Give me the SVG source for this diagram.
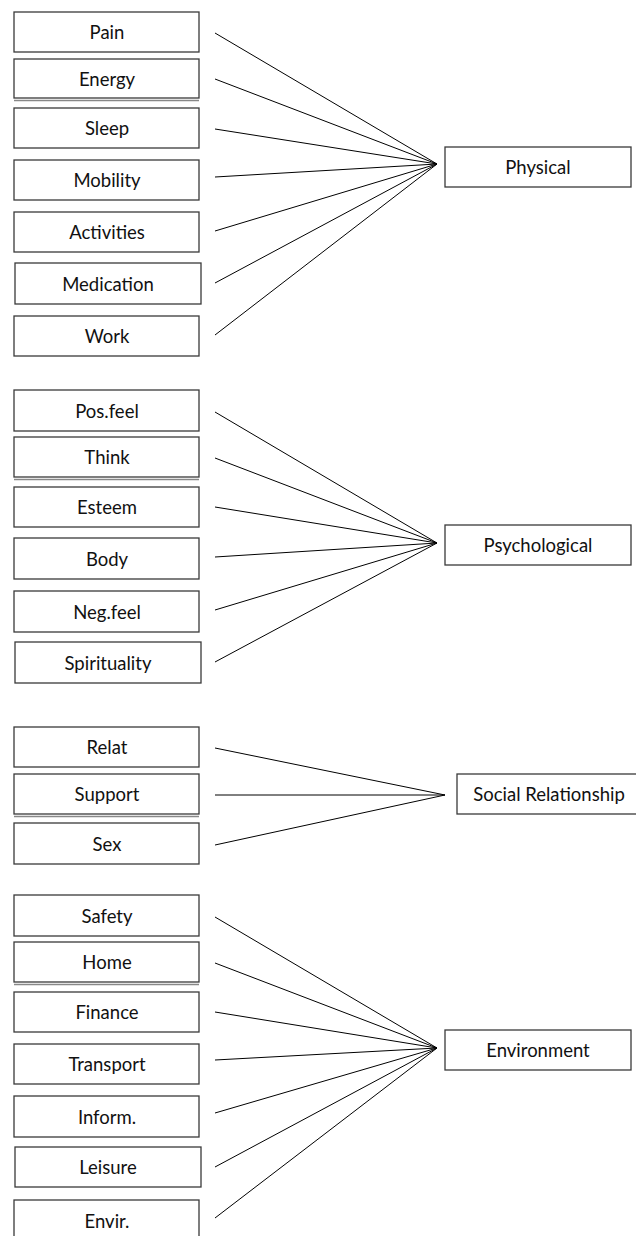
<svg xmlns="http://www.w3.org/2000/svg" width="636" height="1236" viewBox="0 0 636 1236">
<style>
.box{fill:#fff;stroke:#3a3a3a;stroke-width:1.3}
.dbl{stroke:#888;stroke-width:1.3}
.lbl{font-family:Lato,"Open Sans","Liberation Sans",sans-serif;font-size:18.5px;fill:#111;text-anchor:middle}
.con line{stroke:#000;stroke-width:1}
</style>
<rect width="636" height="1236" fill="#fff"/>
<g class="con">
<line x1="215" y1="33" x2="437" y2="164"/>
<line x1="215" y1="79" x2="437" y2="164"/>
<line x1="215" y1="129" x2="437" y2="164"/>
<line x1="215" y1="177" x2="437" y2="164"/>
<line x1="215" y1="231" x2="437" y2="164"/>
<line x1="215" y1="283" x2="437" y2="164"/>
<line x1="215" y1="335" x2="437" y2="164"/>
<line x1="215" y1="412" x2="437" y2="543"/>
<line x1="215" y1="458" x2="437" y2="543"/>
<line x1="215" y1="507" x2="437" y2="543"/>
<line x1="215" y1="557" x2="437" y2="543"/>
<line x1="215" y1="610" x2="437" y2="543"/>
<line x1="215" y1="662" x2="437" y2="543"/>
<line x1="215" y1="748" x2="445" y2="795"/>
<line x1="215" y1="795" x2="445" y2="795"/>
<line x1="215" y1="845" x2="445" y2="795"/>
<line x1="215" y1="917" x2="437" y2="1048"/>
<line x1="215" y1="963" x2="437" y2="1048"/>
<line x1="215" y1="1012" x2="437" y2="1048"/>
<line x1="215" y1="1060" x2="437" y2="1048"/>
<line x1="215" y1="1113" x2="437" y2="1048"/>
<line x1="215" y1="1167" x2="437" y2="1048"/>
<line x1="215" y1="1218" x2="437" y2="1048"/>
</g>
<g id="pain"><rect class="box" x="14" y="12" width="185" height="40"/><text class="lbl" x="107" y="38.5">Pain</text></g>
<g id="energy"><line class="dbl" x1="14" y1="100.5" x2="199" y2="100.5"/><rect class="box" x="14" y="59" width="185" height="39"/><text class="lbl" x="107" y="85.5">Energy</text></g>
<g id="sleep"><rect class="box" x="14" y="108" width="185" height="40"/><text class="lbl" x="107" y="134.5">Sleep</text></g>
<g id="mobility"><rect class="box" x="14" y="160" width="185" height="40"/><text class="lbl" x="107" y="186.5">Mobility</text></g>
<g id="activities"><rect class="box" x="14" y="212" width="185" height="40"/><text class="lbl" x="107" y="238.5">Activities</text></g>
<g id="medication"><rect class="box" x="15" y="263" width="186" height="41"/><text class="lbl" x="108" y="290.5">Medication</text></g>
<g id="work"><rect class="box" x="14" y="316" width="185" height="40"/><text class="lbl" x="107" y="342.5">Work</text></g>
<g id="physical"><rect class="box" x="445" y="147" width="186" height="40"/><text class="lbl" x="538" y="173.5">Physical</text></g>

<g id="posfeel"><rect class="box" x="14" y="390" width="185" height="41"/><text class="lbl" x="107" y="417.5">Pos.feel</text></g>
<g id="think"><line class="dbl" x1="14" y1="479.5" x2="199" y2="479.5"/><rect class="box" x="14" y="437" width="185" height="40"/><text class="lbl" x="107" y="463.5">Think</text></g>
<g id="esteem"><rect class="box" x="14" y="487" width="185" height="40"/><text class="lbl" x="107" y="513.5">Esteem</text></g>
<g id="body"><rect class="box" x="14" y="538" width="185" height="41"/><text class="lbl" x="107" y="565.5">Body</text></g>
<g id="negfeel"><rect class="box" x="14" y="591" width="185" height="41"/><text class="lbl" x="107" y="618.5">Neg.feel</text></g>
<g id="spirituality"><rect class="box" x="15" y="642" width="186" height="41"/><text class="lbl" x="108" y="669.5">Spirituality</text></g>
<g id="psychological"><rect class="box" x="445" y="525" width="186" height="40"/><text class="lbl" x="538" y="551.5">Psychological</text></g>

<g id="relat"><rect class="box" x="14" y="727" width="185" height="40"/><text class="lbl" x="107" y="753.5">Relat</text></g>
<g id="support"><line class="dbl" x1="14" y1="816.5" x2="199" y2="816.5"/><rect class="box" x="14" y="774" width="185" height="40"/><text class="lbl" x="107" y="800.5">Support</text></g>
<g id="sex"><rect class="box" x="14" y="823" width="185" height="41"/><text class="lbl" x="107" y="850.5">Sex</text></g>
<g id="social"><rect class="box" x="457" y="774" width="190" height="40"/><text class="lbl" x="549" y="800.5">Social Relationship</text></g>

<g id="safety"><rect class="box" x="14" y="895" width="185" height="41"/><text class="lbl" x="107" y="922.5">Safety</text></g>
<g id="home"><line class="dbl" x1="14" y1="984.5" x2="199" y2="984.5"/><rect class="box" x="14" y="942" width="185" height="40"/><text class="lbl" x="107" y="968.5">Home</text></g>
<g id="finance"><rect class="box" x="14" y="992" width="185" height="40"/><text class="lbl" x="107" y="1018.5">Finance</text></g>
<g id="transport"><rect class="box" x="14" y="1044" width="185" height="40"/><text class="lbl" x="107" y="1070.5">Transport</text></g>
<g id="inform"><rect class="box" x="14" y="1096" width="185" height="41"/><text class="lbl" x="107" y="1123.5">Inform.</text></g>
<g id="leisure"><rect class="box" x="15" y="1147" width="186" height="40"/><text class="lbl" x="108" y="1173.5">Leisure</text></g>
<g id="envir"><rect class="box" x="14" y="1200" width="185" height="45"/><text class="lbl" x="107" y="1227.5">Envir.</text></g>
<g id="environment"><rect class="box" x="445" y="1030" width="186" height="40"/><text class="lbl" x="538" y="1056.5">Environment</text></g>
</svg>
